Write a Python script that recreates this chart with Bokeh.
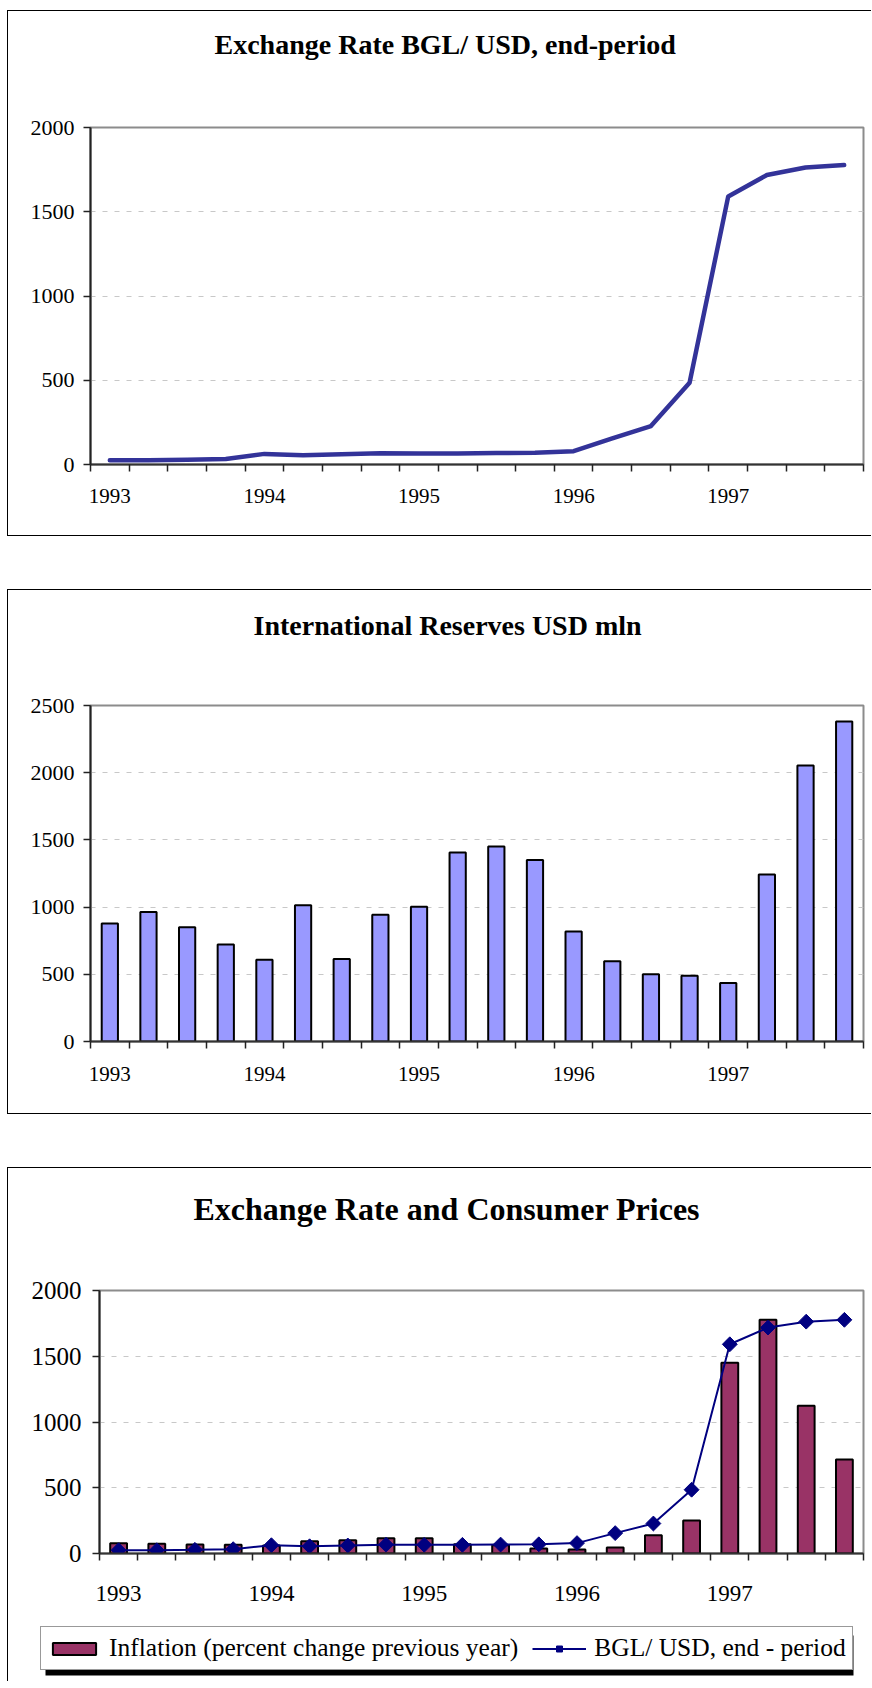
import math
from bokeh.plotting import figure
from bokeh.models import (Range1d, FixedTicker, Title, Legend, LegendItem,
                          BoxAnnotation)
from bokeh.layouts import column
from bokeh.embed import file_html
from bokeh.resources import INLINE

# ---------------- data ----------------
quarters = ["1993Q1", "1993Q2", "1993Q3", "1993Q4",
            "1994Q1", "1994Q2", "1994Q3", "1994Q4",
            "1995Q1", "1995Q2", "1995Q3", "1995Q4",
            "1996Q1", "1996Q2", "1996Q3", "1996Q4",
            "1997Q1", "1997Q2", "1997Q3", "1997Q4"]
exchange_rate = [25, 25, 28, 33, 63, 55, 61, 67, 66, 66,
                 68, 70, 79, 155, 228, 485, 1591, 1718, 1763, 1777]
reserves = [878, 963, 851, 721, 609, 1013, 614, 944, 1003, 1407,
            1450, 1351, 819, 598, 500, 489, 436, 1242, 2053, 2381]
inflation = [78, 74, 68, 66, 60, 94, 101, 116, 116, 70,
             62, 38, 30, 46, 139, 251, 1451, 1778, 1124, 715]
year_labels = ["1993", "1994", "1995", "1996", "1997"]
y_ticks_rate = [0, 500, 1000, 1500, 2000]
y_ticks_res = [0, 500, 1000, 1500, 2000, 2500]

titles = ["Exchange Rate BGL/ USD, end-period",
          "International Reserves USD mln",
          "Exchange Rate and Consumer Prices"]
legend_labels = ["Inflation (percent change previous year)",
                 "BGL/ USD, end - period"]

FONT = "Liberation Serif"
n = len(quarters)
xc = [i + 0.5 for i in range(n)]
year_pos = [i + 0.5 for i, q in enumerate(quarters) if q.endswith("Q1")]


def make_fig(height, mbt, mbb, mbl, y_max, y_ticks, title, t_size, t_offset,
             t_gap, ysize, xsize, xstandoff, ystandoff, styles, margin):
    p = figure(width=864, height=height, output_backend="svg",
               toolbar_location=None, x_range=Range1d(0, n),
               y_range=Range1d(0, y_max), min_border_top=mbt,
               min_border_bottom=mbb, min_border_left=mbl, min_border_right=9,
               background_fill_color="white", border_fill_color="white",
               margin=margin)
    p.title = Title(text=title, align="left", offset=t_offset,
                    standoff=0, text_font=FONT,
                    text_font_size=t_size, text_font_style="bold",
                    text_color="black")
    # spacer between title and plot frame
    p.add_layout(Title(text=" ", text_font_size="1px", standoff=t_gap), "above")
    p.outline_line_color = "#8c8c8c"
    p.outline_line_width = 2
    # x axis
    xa = p.xaxis[0]
    xa.ticker = FixedTicker(ticks=year_pos, minor_ticks=list(range(n + 1)))
    xa.major_label_overrides = {pos: lab for pos, lab in zip(year_pos, year_labels)}
    xa.major_tick_line_color = None
    xa.major_tick_out = 7
    xa.major_tick_in = 0
    xa.minor_tick_line_color = "#222222"
    xa.minor_tick_line_width = 1.5
    xa.minor_tick_out = 7
    xa.minor_tick_in = 0
    xa.axis_line_color = "#333333"
    xa.axis_line_width = 2
    xa.major_label_text_font = FONT
    xa.major_label_text_font_size = xsize
    xa.major_label_text_color = "black"
    xa.major_label_standoff = xstandoff
    # y axis
    ya = p.yaxis[0]
    ya.ticker = FixedTicker(ticks=y_ticks)
    ya.major_tick_line_color = "#222222"
    ya.major_tick_line_width = 1.5
    ya.major_tick_out = 7
    ya.major_tick_in = 0
    ya.minor_tick_line_color = None
    ya.axis_line_color = "#222222"
    ya.axis_line_width = 2
    ya.major_label_text_font = FONT
    ya.major_label_text_font_size = ysize
    ya.major_label_text_color = "black"
    ya.major_label_standoff = ystandoff
    # grid
    p.xgrid.grid_line_color = None
    p.ygrid.ticker = FixedTicker(ticks=y_ticks)
    p.ygrid.grid_line_color = "#c8c8c8"
    p.ygrid.grid_line_dash = "5 7"
    p.ygrid.grid_line_width = 1
    p.styles = styles
    return p


B = "1px solid black"

# ---------- chart 1 ----------
p1 = make_fig(526, 116, 73, 82, 2000, y_ticks_rate, titles[0], "28px", 124, 65,
              "22px", "21px", 17, 9,
              {"border-left": B, "border-top": B, "border-bottom": B},
              (0, 0, 0, 0))
p1.line(xc, exchange_rate, line_color="#333399", line_width=4.5,
        line_cap="round", line_join="round")

# ---------- chart 2 ----------
p2 = make_fig(525, 115, 74, 82, 2500, y_ticks_res, titles[1], "28px", 163, 62,
              "22px", "21px", 18, 9,
              {"border-left": B, "border-top": B, "border-bottom": B},
              (53, 0, 0, 0))
p2.vbar(x=xc, top=reserves, width=0.42, bottom=0, fill_color="#9999FF",
        line_color="black", line_width=2)

# ---------- chart 3 ----------
p3 = make_fig(448, 122, 63, 91, 2000, y_ticks_rate, titles[2], "32px", 94, 61,
              "25px", "23px", 25, 11,
              {"border-left": B, "border-top": B},
              (53, 0, 0, 0))
p3.vbar(x=xc, top=inflation, width=0.44, bottom=0,
        fill_color="#993366", line_color="black", line_width=2)
p3.line(xc, exchange_rate, line_color="#000080", line_width=2)
p3.scatter(xc, exchange_rate, marker="square", size=10.5, angle=math.pi / 4,
           fill_color="#000080", line_color="#000080")

# ---------- legend strip (own figure; same series, drawn out of its view) ----
pl = figure(width=864, height=66, output_backend="svg", toolbar_location=None,
            x_range=Range1d(-10, -9), y_range=Range1d(-10, -9),
            x_axis_location=None, y_axis_location=None,
            min_border=0, min_border_left=0, min_border_right=0,
            min_border_top=0, min_border_bottom=0, outline_line_color=None,
            background_fill_color="white", border_fill_color="white",
            margin=(0, 0, 0, 0))
pl.xgrid.grid_line_color = None
pl.ygrid.grid_line_color = None
pl.styles = {"border-left": B}
lg_bar = pl.vbar(x=xc, top=inflation, width=0.44, bottom=0,
                 fill_color="#993366", line_color="black", line_width=2)
lg_line = pl.line(x=xc, y=exchange_rate, line_color="#000080", line_width=2)
lg_pts = pl.scatter(x=xc, y=exchange_rate, marker="square", size=10.5,
                    angle=math.pi / 4, fill_color="#000080",
                    line_color="#000080")

# drop shadow of the legend box
pl.add_layout(BoxAnnotation(left=37, right=845, bottom=6, top=46,
                            left_units="screen", right_units="screen",
                            bottom_units="screen", top_units="screen",
                            fill_color="black", fill_alpha=1.0,
                            line_color=None))

legend = Legend(items=[LegendItem(label=legend_labels[0], renderers=[lg_bar]),
                       LegendItem(label=legend_labels[1], renderers=[lg_line, lg_pts])],
                location=(32, 11), orientation="horizontal",
                label_text_font=FONT, label_text_font_size="25.5px",
                label_text_color="black", glyph_width=54, glyph_height=15,
                label_standoff=8, spacing=14, padding=6, margin=0,
                border_line_color="#333333", border_line_width=1,
                background_fill_color="white", background_fill_alpha=1.0)
pl.add_layout(legend, "center")

# each figure wrapped on its own so that frames are not aligned with each other
layout = column(column(p1), column(p2), column(p3), column(pl),
                spacing=0, margin=(10, 0, 0, 7))

open("out.html", "w").write(file_html(layout, INLINE))
